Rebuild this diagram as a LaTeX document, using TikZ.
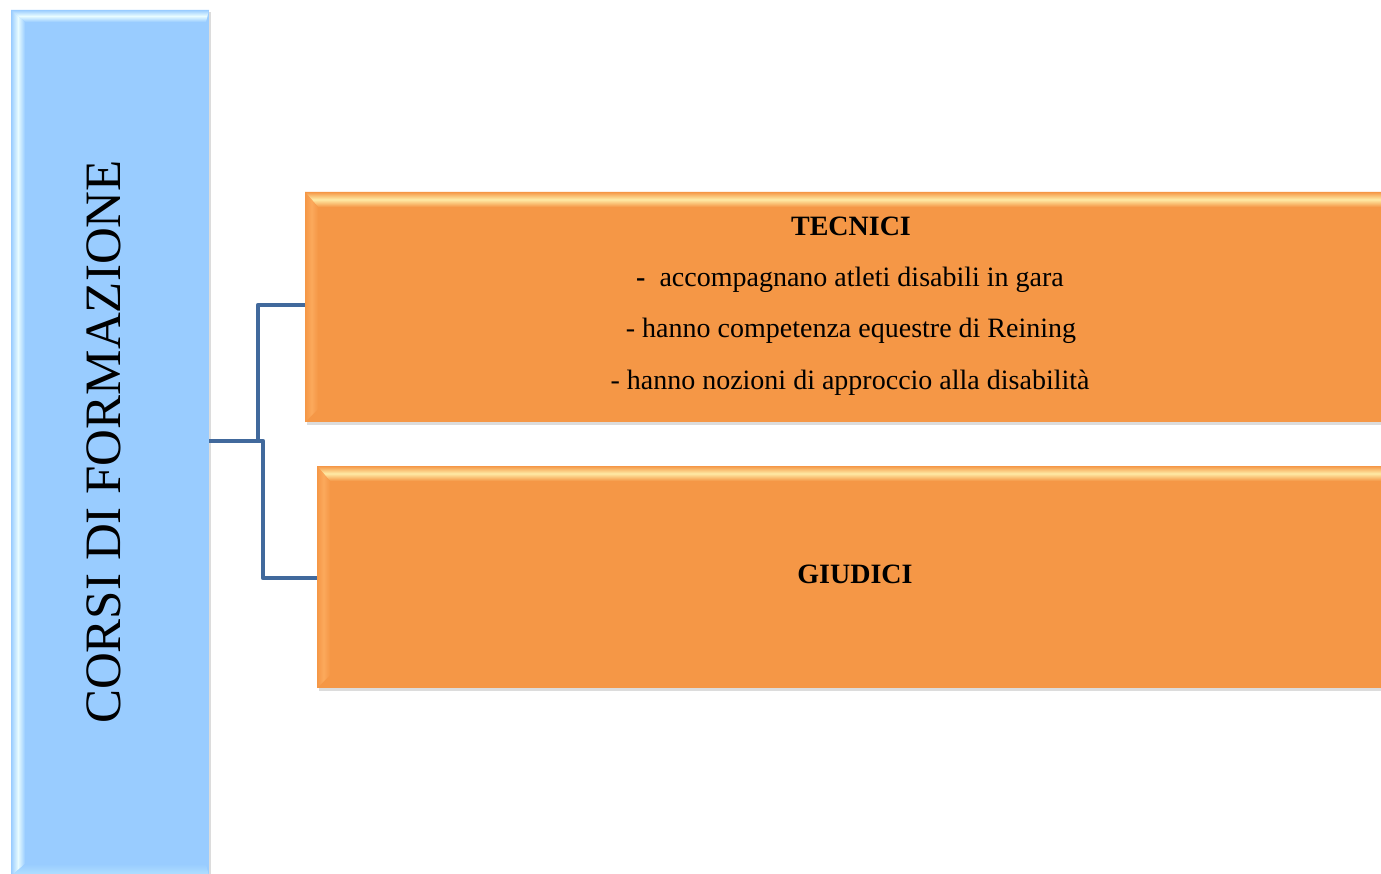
\documentclass[tikz,border=0pt]{standalone}
\usepackage{fontspec}
\setmainfont{Liberation Serif}
\usetikzlibrary{shadows}
\definecolor{skyfill}{HTML}{99CCFF}
\definecolor{skylight}{HTML}{E8FCFF}
\definecolor{skybot}{HTML}{B4E2FF}
\definecolor{orfill}{HTML}{F59746}
\definecolor{orleft}{HTML}{FBA95C}
\definecolor{orlight}{HTML}{FFEBA5}
\definecolor{conncol}{HTML}{41699C}
\newcommand\orbevelbox[1]{%
  \shade[top color=orfill, bottom color=orfill, middle color=orlight]
    (#1.north west) -- (#1.north east)
    -- ([shift={(0pt,-15pt)}]#1.north east)
    -- ([shift={(13pt,-15pt)}]#1.north west) -- cycle;
  \shade[left color=orfill, right color=orfill, middle color=orleft]
    (#1.north west) -- ([shift={(13pt,-15pt)}]#1.north west)
    -- ([shift={(13pt,13pt)}]#1.south west)
    -- (#1.south west) -- cycle;
}
\newcommand\skybevelbox[1]{%
  \shade[top color=skyfill, bottom color=skyfill, middle color=skylight]
    (#1.north west) -- (#1.north east)
    -- ([shift={(-3pt,-12pt)}]#1.north east)
    -- ([shift={(14pt,-12pt)}]#1.north west) -- cycle;
  \shade[left color=skyfill, right color=skyfill, middle color=skylight]
    (#1.north west) -- ([shift={(14pt,-12pt)}]#1.north west)
    -- ([shift={(14pt,12pt)}]#1.south west)
    -- (#1.south west) -- cycle;
  \shade[top color=skyfill, bottom color=skybot]
    (#1.south west) -- ([shift={(14pt,12pt)}]#1.south west)
    -- ([shift={(-3pt,12pt)}]#1.south east)
    -- (#1.south east) -- cycle;
}
\tikzset{
  panel/.style={rectangle, draw=none, inner sep=0pt, outer sep=0pt,
    drop shadow={shadow xshift=2pt, shadow yshift=-2.5pt, opacity=.28}},
  bluepanel/.style={panel, fill=skyfill},
  orpanel/.style={panel, fill=orfill},
  conn/.style={draw=conncol, line width=4.8pt, line join=round},
  bodytext/.style={anchor=base, inner sep=0pt, font=\fontsize{28}{34}\selectfont},
  headtext/.style={anchor=base, inner sep=0pt, font=\fontsize{28}{34}\selectfont\bfseries},
}
\begin{document}
\begin{tikzpicture}[x=1pt, y=-1pt]
  \path[use as bounding box] (0,0) rectangle (1381,874);
  \clip (0,0) rectangle (1381,874);
  % panels
  \node[bluepanel, minimum width=198pt, minimum height=866pt] (root) at (110,443) {};
  \skybevelbox{root}
  \node[orpanel, minimum width=1100pt, minimum height=230pt] (tec) at (855,307) {};
  \orbevelbox{tec}
  \node[orpanel, minimum width=1090pt, minimum height=222pt] (giu) at (862,577) {};
  \orbevelbox{giu}
  % connectors
  \coordinate (j1) at (258,441);
  \coordinate (j2) at (263,441);
  \draw[conn] (tec.west |- 0,305) -| (j1) -- (root.east |- j1);
  \draw[conn] (giu.west |- 0,578) -| (j2) -- (root.east |- j2);
  % texts
  \node[rotate=90, anchor=base, inner sep=0pt, font=\fontsize{51}{60}\selectfont] (rootlbl) at (120,442) {CORSI DI FORMAZIONE};
  \node[headtext] (t0) at (851,236) {TECNICI};
  \node[bodytext] (t1) at (850,287) {\textbf{-}\ \ accompagnano atleti disabili in gara};
  \node[bodytext] (t2) at (851,338) {- hanno competenza equestre di Reining};
  \node[bodytext] (t3) at (850,389) {- hanno nozioni di approccio alla disabilità};
  \node[headtext] (g0) at (855,583) {GIUDICI};
\end{tikzpicture}
\end{document}
